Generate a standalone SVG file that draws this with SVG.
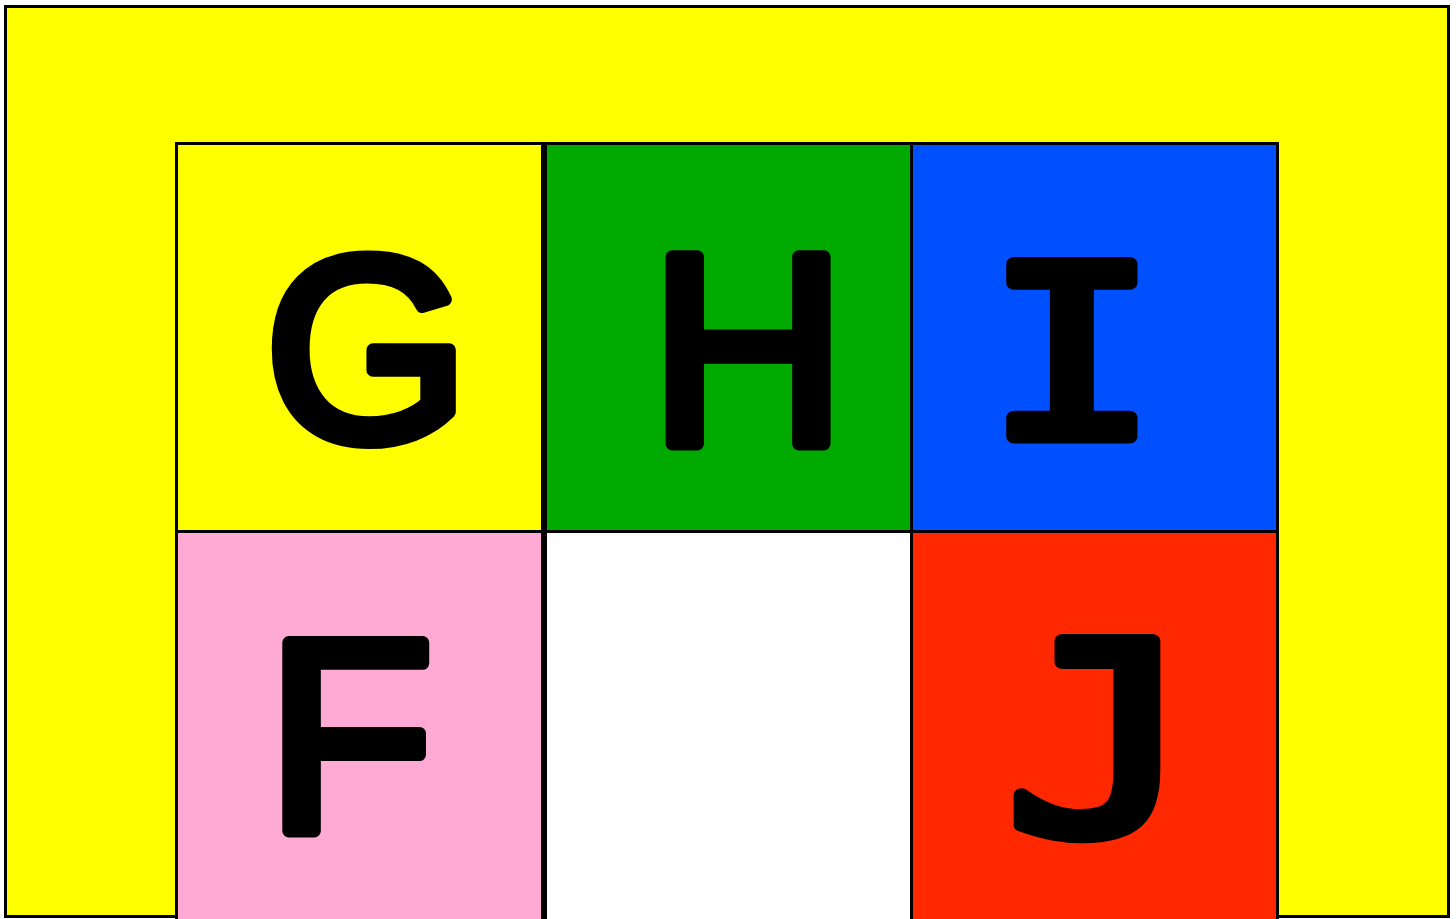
<svg xmlns="http://www.w3.org/2000/svg" width="1456" height="919" viewBox="0 0 1456 919">
<style>
.cell{stroke:#000;stroke-width:3}
.lt{font-family:"Liberation Sans",Arial,sans-serif;font-weight:normal;fill:#000;stroke:#000;stroke-width:13;stroke-linejoin:round;stroke-linecap:round;text-anchor:middle}
.mono{font-family:"DejaVu Sans Mono",monospace}
</style>
<rect width="1456" height="919" fill="#fff"/>
<g id="frame">
<rect x="5.5" y="6.5" width="1443" height="910" fill="#ffff00" stroke="#000" stroke-width="3"/>
</g>
<g id="cell-G">
<rect class="cell" x="176.5" y="143.5" width="366" height="388" fill="#ffff00"/>
<text class="lt" x="367" y="440" font-size="262">G</text>
</g>
<g id="cell-H">
<rect class="cell" x="545.5" y="143.5" width="366" height="388" fill="#00aa00"/>
<text class="lt" x="748" y="444" font-size="272">H</text>
</g>
<g id="cell-I">
<rect class="cell" x="911.5" y="143.5" width="366" height="388" fill="#0050ff"/>
<text class="lt mono" x="1072" y="437" font-size="238" transform="translate(1072 0) scale(1.2 1) translate(-1072 0)">I</text>
</g>
<g id="cell-F">
<rect class="cell" x="176.5" y="531.5" width="366" height="390" fill="#ffaad4"/>
<text class="lt" x="350" y="831" font-size="274">F</text>
</g>
<g id="cell-J">
<rect class="cell" x="911.5" y="531.5" width="366" height="390" fill="#ff2800"/>
<text class="lt mono" x="1100" y="833" font-size="264" transform="translate(1100 0) scale(1.2 1) translate(-1100 0)">J</text>
</g>
<g id="cell-empty">
<rect class="cell" x="545.5" y="531.5" width="366" height="390" fill="#ffffff"/>
</g>
<g id="connectors"></g>
</svg>
